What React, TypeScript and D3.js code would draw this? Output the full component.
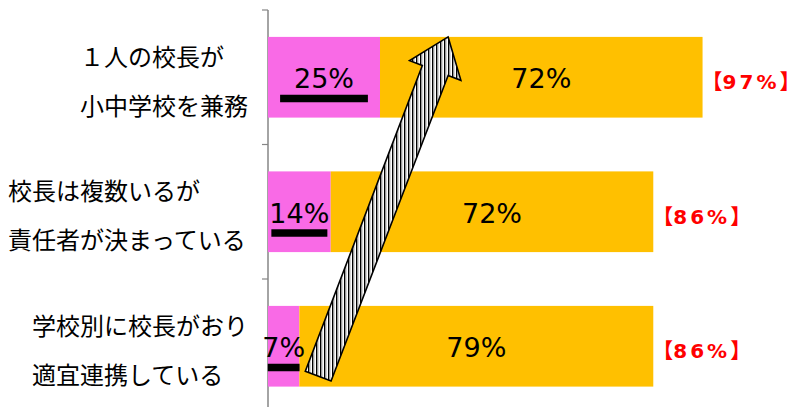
import React from "react";
import * as d3 from "d3";

const categories: string[][] = [
  ["１人の校長が", "小中学校を兼務"],
  ["校長は複数いるが", "責任者が決まっている"],
  ["学校別に校長がおり", "適宜連携している"],
];
const pinkValues = [25, 14, 7];
const yellowValues = [72, 72, 79];
const totalLabels = ["97%", "86%", "86%"];
const underlineValues = [19.6, 12.5, 7.1];
// arrow annotation: from row 3 (value, fraction of bar height) to row 1 top
const arrowFrom = { row: 2, value: 11.2, frac: 0.87 };
const arrowTo = { row: 0, value: 40.2, frac: 0 };

const W = 799;
const H = 407;
const PINK = "#F96AE6";
const GOLD = "#FFC000";

export default function App() {
  const keys = categories.map((c) => c.join(""));
  const y = d3
    .scaleBand<string>()
    .domain(keys)
    .range([10, 413.5])
    .paddingInner(0.4)
    .paddingOuter(0.2);
  const x = d3.scaleLinear().domain([0, 100]).range([268, 716]);
  const step = y.step();
  const bw = y.bandwidth();
  const tickYs = d3.range(keys.length + 1).map((i) => y.range()[0] + i * step);

  // arrow geometry
  const p0: [number, number] = [
    x(arrowFrom.value),
    (y(keys[arrowFrom.row]) as number) + bw * arrowFrom.frac,
  ];
  const p1: [number, number] = [
    x(arrowTo.value),
    (y(keys[arrowTo.row]) as number) + bw * arrowTo.frac,
  ];
  const dx = p1[0] - p0[0];
  const dy = p1[1] - p0[1];
  const len = Math.hypot(dx, dy);
  const u = [dx / len, dy / len];
  const n = [-u[1], u[0]];
  const shaftHalf = 13.8;
  const headHalf = 27.5;
  const headLen = 36;
  const hb = [p1[0] - u[0] * headLen, p1[1] - u[1] * headLen];
  const pt = (b: number[], k: number) => [b[0] + n[0] * k, b[1] + n[1] * k];
  const arrowPts = [
    pt(p0, shaftHalf),
    pt(hb, shaftHalf),
    pt(hb, headHalf),
    p1,
    pt(hb, -headHalf),
    pt(hb, -shaftHalf),
    pt(p0, -shaftHalf),
  ];
  const arrowPath = d3.line()(arrowPts as [number, number][]) + "Z";

  const catFont = 24;
  const catRight = 248;

  return (
    <svg
      width={W}
      height={H}
      style={{ position: "absolute", left: 0, top: 0, display: "block", background: "#fff" }}
    >
      <defs>
        <pattern id="hatch" width={4} height={4} patternUnits="userSpaceOnUse">
          <rect width={4} height={4} fill="#fff" />
          <rect x={0} width={1.4} height={4} fill="#000" />
          <rect x={1.4} width={1} height={4} fill="#9a9a9a" />
        </pattern>
      </defs>

      {/* axis */}
      <line x1={268} x2={268} y1={tickYs[0]} y2={tickYs[tickYs.length - 1]} stroke="#868686" strokeWidth={1.5} />
      {tickYs.map((t, i) => (
        <line key={i} x1={262} x2={268} y1={t} y2={t} stroke="#868686" strokeWidth={1.2} />
      ))}

      {/* bars */}
      {keys.map((k, i) => {
        const y0 = y(k) as number;
        const cy = y0 + bw / 2;
        const pEnd = x(pinkValues[i]);
        const tEnd = x(pinkValues[i] + yellowValues[i]);
        const base = cy + 11;
        const uw = x(underlineValues[i]) - x(0);
        const pc = (x(0) + pEnd) / 2;
        return (
          <g key={k}>
            <rect x={x(0)} y={y0} width={pEnd - x(0)} height={bw} fill={PINK} />
            <rect x={pEnd} y={y0} width={tEnd - pEnd} height={bw} fill={GOLD} />
            <rect x={pc - uw / 2} y={base + 6.5} width={uw} height={7.5} fill="#000" />
            <text
              x={pc}
              y={base}
              textAnchor="middle"
              fontFamily="DejaVu Sans"
              fontSize={27}
              fill="#000"
            >
              {pinkValues[i]}%
            </text>
            <text
              x={(pEnd + tEnd) / 2}
              y={base}
              textAnchor="middle"
              fontFamily="DejaVu Sans"
              fontSize={27}
              fill="#000"
            >
              {yellowValues[i]}%
            </text>
            <text
              x={tEnd - 1}
              y={cy + 5 + 7}
              fontSize={21}
              fill="#FF0000"
            >
              <tspan fontFamily="'Noto Sans CJK JP'" fontWeight="bold">【</tspan>
              <tspan fontFamily="DejaVu Sans" fontSize={20} fontWeight="bold" letterSpacing={3}>
                {totalLabels[i]}
              </tspan>
              <tspan fontFamily="'Noto Sans CJK JP'" fontWeight="bold">】</tspan>
            </text>
            {categories[i].map((line, j) => {
              const maxChars = d3.max(categories[i], (s) => s.length) as number;
              const lx = catRight - maxChars * catFont;
              const lineC = cy + 4 + (j - (categories[i].length - 1) / 2) * 49;
              return (
                <text
                  key={j}
                  x={lx}
                  y={lineC + 9}
                  fontFamily="'Noto Sans CJK JP'"
                  fontSize={catFont}
                  fill="#000"
                >
                  {line}
                </text>
              );
            })}
          </g>
        );
      })}

      {/* arrow */}
      <path d={arrowPath} fill="url(#hatch)" stroke="#000" strokeWidth={1.6} strokeLinejoin="miter" />
    </svg>
  );
}
